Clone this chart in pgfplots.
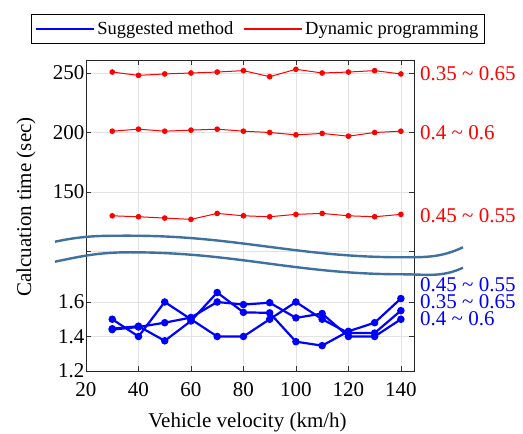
\documentclass[border=0pt]{standalone}
\usepackage{fontspec}
\setmainfont{Liberation Serif}
\usepackage{pgfplots}
\pgfplotsset{compat=1.18}

\definecolor{wave}{RGB}{62,112,160}
\newcommand{\bigfont}{\fontsize{21}{24}\selectfont}
\newcommand{\legfont}{\fontsize{18.5}{21}\selectfont}

% lower block: 1.2..1.6 ; upper block: 100..250 (plot units = px from bottom)
\pgfplotsset{
  lower/.style={y filter/.expression={(y-1.2)*172.5}},
  upper/.style={y filter/.expression={179+(y-150)*1.19}},
}

\begin{document}
\begin{tikzpicture}
\useasboundingbox (0,0) rectangle (523pt,434pt);
\begin{axis}[
  at={(86pt,63pt)}, anchor=south west,
  scale only axis, width=328pt, height=311pt,
  xmin=20, xmax=145, ymin=0, ymax=311,
  xtick={20,40,...,140},
  ytick={0,34.5,69,119.5,179,238.5,298},
  yticklabels={1.2,1.4,1.6,,150,200,250},
  /pgf/number format/assume math mode=true,
  tick label style={font=\bigfont},
  xticklabel style={yshift=-8pt},
  yticklabel style={xshift=2pt},
  tick align=inside, major tick length=5pt,
  tick style={black!80, line width=0.6pt},
  axis line style={black!85, line width=0.9pt},
  grid=major, grid style={gray!22, line width=0.6pt},
  xlabel={Vehicle velocity (km/h)},
  ylabel={Calcuation time (sec)},
  label style={font=\bigfont},
  xlabel style={at={(axis description cs:0.4924,-0.166)}, anchor=center},
  ylabel style={at={(axis description cs:-0.183,0.527)}, anchor=center},
  legend columns=2,
  legend style={at={(rel axis cs:0.5235,1.1003)}, anchor=center,
    font=\legfont, draw=black, line width=0.8pt, inner xsep=4pt, inner ysep=5pt,
    /tikz/every even column/.append style={column sep=8pt}},
  legend image code/.code={\draw[#1] (0pt,0pt) -- (58pt,0pt);},
  clip=false,
]
\addlegendimage{blue, line width=2.2pt}
\addlegendentry{Suggested method}
\addlegendimage{red, line width=1.8pt}
\addlegendentry{Dynamic programming}

% Dynamic programming
\addplot[upper, red, line width=1pt, mark=*, mark size=2.3pt] coordinates {
 (30,250.8) (40,248.0) (50,249.2) (60,250.0) (70,250.8) (80,252.0)
 (90,246.9) (100,253.1) (110,250.0) (120,250.8) (130,252.0) (140,249.2)};
\addplot[upper, red, line width=1pt, mark=*, mark size=2.3pt] coordinates {
 (30,201.1) (40,202.8) (50,201.1) (60,202.0) (70,202.8) (80,201.1)
 (90,200.0) (100,198.0) (110,199.2) (120,196.9) (130,200.0) (140,201.1)};
\addplot[upper, red, line width=1pt, mark=*, mark size=2.3pt] coordinates {
 (30,130.0) (40,129.2) (50,128.1) (60,127.0) (70,132.0) (80,130.0)
 (90,129.2) (100,131.2) (110,132.0) (120,130.0) (130,129.2) (140,131.2)};

% Suggested method
\addplot[lower, blue, line width=2.2pt, mark=*, mark size=2.6pt] coordinates {
 (30,1.50) (40,1.40) (50,1.60) (60,1.50) (70,1.40) (80,1.40)
 (90,1.50) (100,1.60) (110,1.50) (120,1.42) (130,1.42) (140,1.55)};
\addplot[lower, blue, line width=2.2pt, mark=*, mark size=2.6pt] coordinates {
 (30,1.445) (40,1.46) (50,1.375) (60,1.49) (70,1.655) (80,1.54)
 (90,1.537) (100,1.37) (110,1.347) (120,1.43) (130,1.48) (140,1.62)};
\addplot[lower, blue, line width=2.2pt, mark=*, mark size=2.6pt] coordinates {
 (30,1.44) (40,1.455) (50,1.48) (60,1.51) (70,1.60) (80,1.585)
 (90,1.596) (100,1.508) (110,1.533) (120,1.40) (130,1.40) (140,1.50)};
\end{axis}

% axis break
\draw[wave, line width=2.4pt] (55pt,192.3pt) to[out=12,in=180] (130pt,198.3pt)
  to[out=0,in=180] (403pt,176.7pt) to[out=0,in=205] (463pt,186.7pt);
\draw[wave, line width=2.4pt] (55pt,172.3pt) to[out=12,in=180] (130pt,181.7pt)
  to[out=0,in=180] (403pt,159.7pt) to[out=0,in=205] (463pt,166.3pt);

% range annotations
\begin{scope}[every node/.style={anchor=west, inner sep=0pt, font=\bigfont}]
\node[red]  at (420pt,360pt) {0.35 \textasciitilde{} 0.65};
\node[red]  at (420pt,301pt) {0.4 \textasciitilde{} 0.6};
\node[red]  at (420pt,218pt) {0.45 \textasciitilde{} 0.55};
\node[blue] at (420pt,149pt) {0.45 \textasciitilde{} 0.55};
\node[blue] at (420pt,132pt) {0.35 \textasciitilde{} 0.65};
\node[blue] at (420pt,115pt) {0.4 \textasciitilde{} 0.6};
\end{scope}
\end{tikzpicture}
\end{document}
